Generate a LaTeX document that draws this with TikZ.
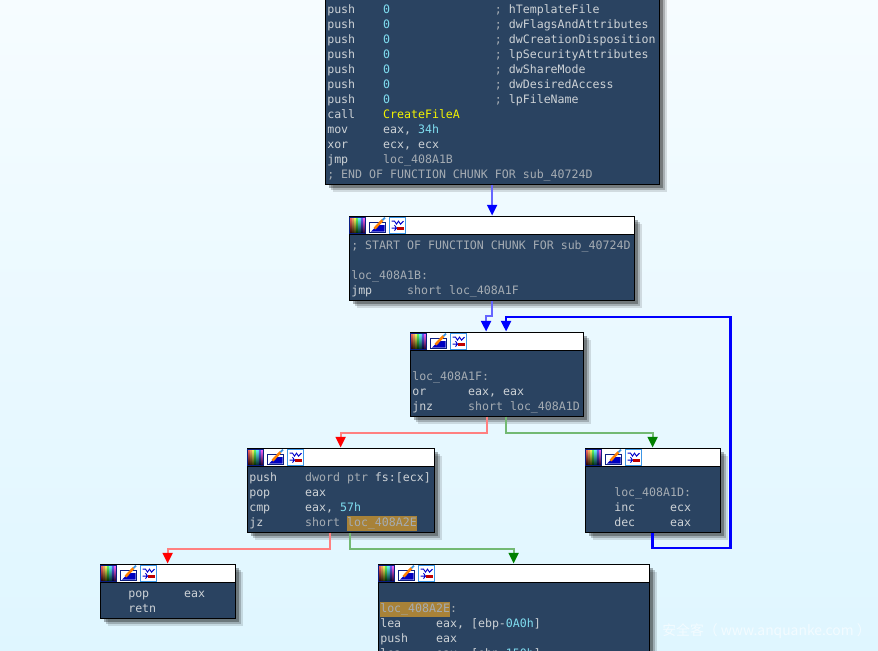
\documentclass[tikz,border=0pt]{standalone}
\usepackage{fontspec}
\setmonofont{DejaVu Sans Mono}
\newfontfamily\cjkwm{Noto Sans CJK SC}
\usetikzlibrary{arrows.meta,shadows}

\def\px{0.75pt}
\definecolor{bgtop}{HTML}{F6FCFF}
\definecolor{bgbot}{HTML}{DFF6FF}
\definecolor{asmbody}{HTML}{2A4361}
\definecolor{asmtext}{HTML}{CDD2D6}
\definecolor{asmdimtext}{HTML}{A5ACB3}
\definecolor{asmcyan}{HTML}{7FDDF0}
\definecolor{asmyellow}{HTML}{F4F400}
\definecolor{asmmarkbg}{HTML}{A88238}
\definecolor{iconnavy}{HTML}{0A1E82}
\definecolor{iconsky}{HTML}{3C96E6}

\newcommand{\asmnum}[1]{\textcolor{asmcyan}{#1}}
\newcommand{\asmapi}[1]{\textcolor{asmyellow}{#1}}
\newcommand{\asmdim}[1]{\textcolor{asmdimtext}{#1}}
\newcommand{\asmmark}[1]{{\setlength{\fboxsep}{0pt}\colorbox{asmmarkbg}{\strut\asmdim{#1}}}}

\begin{document}
\begin{tikzpicture}[
	x=\px, y=-\px,
	codebox/.style={ draw=black, line width=.9pt, fill=asmbody, inner sep=0pt, anchor=north west,
		drop shadow={shadow xshift=5.6pt, shadow yshift=-5.6pt, opacity=.12, fill=black},
		drop shadow={shadow xshift=4.4pt, shadow yshift=-4.4pt, opacity=.2, fill=black},
		drop shadow={shadow xshift=3pt, shadow yshift=-3pt, opacity=.3, fill=black} },
	headbar/.style={ draw=black, line width=.9pt, fill=white, inner sep=0pt, anchor=north west, minimum height=18*\px },
	asm/.style={ text=asmtext, inner sep=0pt, anchor=north west, align=left, font=\ttfamily\fontsize{8.7pt}{11.25pt}\selectfont },
	edgeblue/.style={ line width=1.5pt, color=blue!60!white, -{Triangle[color=blue,width=7.5pt,length=8pt]} },
	edgeloop/.style={ line width=1.7pt, color=blue, -{Triangle[color=blue,width=7.5pt,length=8pt]} },
	edgered/.style={ line width=1.5pt, color=red!50!white, -{Triangle[color=red,width=7.5pt,length=8pt]} },
	edgegreen/.style={ line width=1.5pt, color=green!50!black!55!white, -{Triangle[color=green!50!black,width=7.5pt,length=8pt]} },
	toolicons/.pic={
		\foreach \c [count=\i from 0] in {red,orange,yellow,green,cyan,blue,magenta}
			\shade[top color=\c!60!white, bottom color=\c!15!black] ({1+\i*16/7},-8) rectangle ({1+(\i+1)*16/7},8);
		\draw[iconnavy, line width=.8pt] (1,-8) rectangle (17,8);
		\draw[iconnavy, line width=.8pt, fill=white] (21,-3) rectangle (37,7.5);
		\fill[blue!75!black] (22.5,6.5) -- (29,0) -- (36,0) -- (36,6.5) -- cycle;
		\draw[orange, line width=1.9pt] (26,3.5) -- (34,-5);
		\draw[iconsky, line width=1.4pt] (34,-5) -- (36.5,-7.5);
		\draw[iconsky, line width=.9pt, fill=white] (41,-8) rectangle (57,8);
		\draw[blue!80!black, line width=.7pt] (43,-4) -- (46,-4) -- (48,-1) -- (50,-4) -- (52,-1) -- (55,-4);
		\draw[blue!80!black, line width=.7pt] (43,3) -- (48,3) (46,0) -- (48,3) -- (46,5.5);
		\fill[red!75!black] (48,1.5) rectangle (55.5,4.5);
	}
]

\clip (0,0) rectangle (878,650);
\shade[top color=bgtop, bottom color=bgbot] (0,0) rectangle (878,650);

% blocks
\node[codebox, minimum width=334*\px, minimum height=204*\px] at (324.5,-20.5) (locA) {};
\node[codebox, minimum width=285*\px, minimum height=84*\px] at (348.5,215.5) (locB) {};
\node[codebox, minimum width=173*\px, minimum height=84*\px] at (409.5,331.5) (locC) {};
\node[codebox, minimum width=187*\px, minimum height=84*\px] at (246.5,447.5) (locD) {};
\node[codebox, minimum width=135*\px, minimum height=84*\px] at (584.5,447.5) (locE) {};
\node[codebox, minimum width=135*\px, minimum height=54*\px] at (99.5,563.5) (locF) {};
\node[codebox, minimum width=271*\px, minimum height=140*\px] at (377.5,563.5) (locG) {};

% title bars
\node[headbar, minimum width=285*\px] at (locB.north west) (headB) {};
\node[headbar, minimum width=173*\px] at (locC.north west) (headC) {};
\node[headbar, minimum width=187*\px] at (locD.north west) (headD) {};
\node[headbar, minimum width=135*\px] at (locE.north west) (headE) {};
\node[headbar, minimum width=135*\px] at (locF.north west) (headF) {};
\node[headbar, minimum width=271*\px] at (locG.north west) (headG) {};
\foreach \h in {headB,headC,headD,headE,headF,headG}
	\pic at (\h.west) {toolicons};

% listings
\node[asm] at (327,2.5) (textA) {\strut
	push~~~~\asmnum{0}~~~~~~~~~~~~~~~\asmdim{;}~hTemplateFile\\
	push~~~~\asmnum{0}~~~~~~~~~~~~~~~\asmdim{;}~dwFlagsAndAttributes\\
	push~~~~\asmnum{0}~~~~~~~~~~~~~~~\asmdim{;}~dwCreationDisposition\\
	push~~~~\asmnum{0}~~~~~~~~~~~~~~~\asmdim{;}~lpSecurityAttributes\\
	push~~~~\asmnum{0}~~~~~~~~~~~~~~~\asmdim{;}~dwShareMode\\
	push~~~~\asmnum{0}~~~~~~~~~~~~~~~\asmdim{;}~dwDesiredAccess\\
	push~~~~\asmnum{0}~~~~~~~~~~~~~~~\asmdim{;}~lpFileName\\
	call~~~~\asmapi{CreateFileA}\\
	mov~~~~~eax,~\asmnum{34h}\\
	xor~~~~~ecx,~ecx\\
	jmp~~~~~\asmdim{loc\_408A1B}\\
	\asmdim{;~END~OF~FUNCTION~CHUNK~FOR~sub\_40724D}};
\node[asm] at (351,238.5) (textB) {\strut
	\asmdim{;~START~OF~FUNCTION~CHUNK~FOR~sub\_40724D}\\
	~\\
	\asmdim{loc\_408A1B:}\\
	jmp~~~~~\asmdim{short~loc\_408A1F}};
\node[asm] at (412,354.5) (textC) {\strut~\\
	\asmdim{loc\_408A1F:}\\
	or~~~~~~eax,~eax\\
	jnz~~~~~\asmdim{short~loc\_408A1D}};
\node[asm] at (249,470.5) (textD) {\strut
	push~~~~\asmdim{dword~ptr}~fs:[ecx]\\
	pop~~~~~eax\\
	cmp~~~~~eax,~\asmnum{57h}\\
	jz~~~~~~\asmdim{short}~\asmmark{loc\_408A2E}};
\node[asm] at (614,470.5) (textE) {\strut~\\
	\asmdim{loc\_408A1D:}\\
	inc~~~~~ecx\\
	dec~~~~~eax};
\node[asm] at (128,586.5) (textF) {\strut
	pop~~~~~eax\\
	retn};
\node[asm] at (380,586.5) (textG) {\strut~\\
	\asmmark{loc\_408A2E}\asmdim{:}\\
	lea~~~~~eax,~[ebp-\asmnum{0A0h}]\\
	push~~~~eax\\
	lea~~~~~eax,~[ebp-\asmnum{150h}]};

% edges
\draw[edgeblue] (locA.south) -- (headB.north -| locA.south);
\draw[edgeblue] (locB.south) -- ++(0,15) -| ([xshift=-7.9pt]headC.north);
\draw[edgered] ([xshift=-7.1pt]locC.south) -- ++(0,16) -| (headD.north);
\draw[edgegreen] ([xshift=7.1pt]locC.south) -- ++(0,16) -| (headE.north);
\draw[edgered] ([xshift=-7.9pt]locD.south) -- ++(0,16) -| (headF.north);
\draw[edgegreen] ([xshift=7.1pt]locD.south) -- ++(0,16) -| (headG.north);
\draw[edgeloop] (locE.south) -- ++(0,15) -- ++(78,0) -- ++(0,-231) -| ([xshift=7.1pt]headC.north);

\node[white, opacity=.6, anchor=west, inner sep=0pt, font=\cjkwm\fontsize{10.4pt}{12pt}\selectfont] at (662,631) (wmark) {安全客（ www.anquanke.com ）};

\end{tikzpicture}
\end{document}
